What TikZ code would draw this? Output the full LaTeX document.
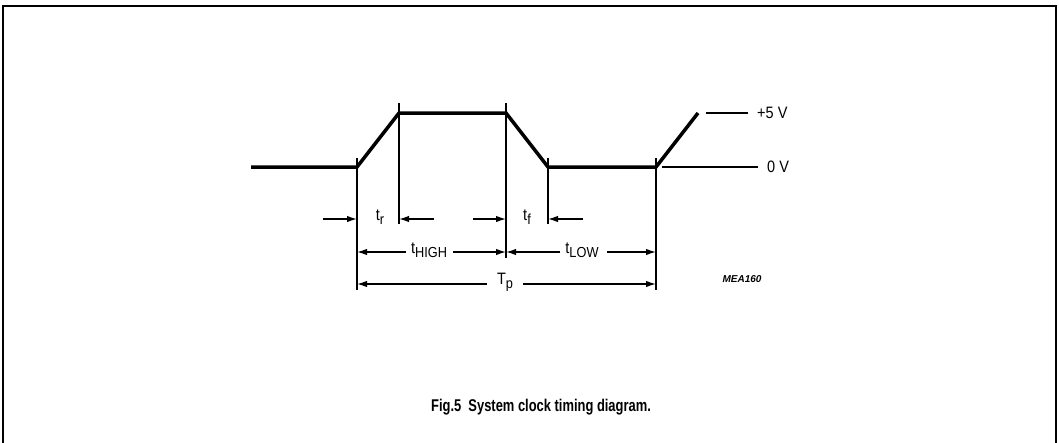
\documentclass[tikz,border=0pt]{standalone}
\usepackage{fontspec}
\setmainfont{Liberation Sans}
\newfontfamily\capfont[FakeStretch=0.76]{Liberation Sans}
\newfontfamily\lblfont[FakeStretch=0.88]{Liberation Sans}
\usetikzlibrary{arrows.meta}
\newcommand{\lowsub}[1]{\raisebox{-0.45ex}{\fontsize{14.5}{14.5}\selectfont #1}}
\begin{document}
\begin{tikzpicture}[x=1pt,y=-1pt,
  sig/.style={line width=3.5pt,line join=miter},
  vline/.style={line width=2pt},
  thin/.style={line width=1.4pt},
  dim/.style={line width=1.4pt,-{Latex[length=10pt,width=6.5pt]}},
  lbl/.style={font=\lblfont\fontsize{16.5}{16.5}\selectfont,inner sep=0pt},
  frame/.style={line width=2pt}]
\useasboundingbox (0,0) rectangle (1059,442);
% frame
\draw[frame] (3,445) -- (3,6) -- (1056,6) -- (1056,445);
% signal coordinates
\coordinate (s0) at (251,167);
\coordinate (s1) at (357,167);
\coordinate (s2) at (399,113);
\coordinate (s3) at (506,113);
\coordinate (s4) at (548,167);
\coordinate (s5) at (656,167);
\coordinate (s6) at (698,113);
\draw[sig] (s0) -- (s1) -- (s2) -- (s3) -- (s4) -- (s5) -- (s6);
% level references
\coordinate (hv0) at (706,113);
\coordinate (hv1) at (748,113);
\draw[thin] (hv0) -- (hv1);
\node[lbl,anchor=west] (plus5) at (757,113) {+5 V};
\coordinate (lv0) at (662,167);
\coordinate (lv1) at (758,167);
\draw[thin] (lv0) -- (lv1);
\node[lbl,anchor=west] (zero) at (767,167) {0 V};
% vertical markers
\coordinate (v1t) at (357,158); \coordinate (v1b) at (357,290);
\coordinate (v2t) at (399,103); \coordinate (v2b) at (399,224);
\coordinate (v3t) at (506,103); \coordinate (v3b) at (506,258);
\coordinate (v4t) at (548,158); \coordinate (v4b) at (548,224);
\coordinate (v5t) at (656,158); \coordinate (v5b) at (656,290);
\foreach \v in {1,...,5} \draw[vline] (v\v t) -- (v\v b);
% t_r / t_f row
\coordinate (r1) at (323,219); \coordinate (r1e) at (357,219);
\draw[dim] (r1) -- (r1e);
\node[lbl] (tr) at (380,217) {t\lowsub{r}};
\coordinate (r2) at (434,219); \coordinate (r2e) at (399,219);
\draw[dim] (r2) -- (r2e);
\coordinate (r3) at (473,219); \coordinate (r3e) at (506,219);
\draw[dim] (r3) -- (r3e);
\node[lbl] (tf) at (527,217) {t\lowsub{f}};
\coordinate (r4) at (583,219); \coordinate (r4e) at (548,219);
\draw[dim] (r4) -- (r4e);
% t_HIGH / t_LOW row
\node[lbl] (thigh) at (429,250) {t\lowsub{HIGH}};
\coordinate (h1) at (357,252); \coordinate (h2) at (506,252);
\draw[dim] (thigh.west) ++(-5,2) -- (h1);
\draw[dim] (thigh.east) ++(6,2) -- (h2);
\node[lbl] (tlow) at (582,250) {t\lowsub{LOW}};
\coordinate (l1) at (506,252); \coordinate (l2) at (656,252);
\draw[dim] (tlow.west) ++(-5,2) -- (l1);
\draw[dim] (tlow.east) ++(8,2) -- (l2);
% T_p row
\node[lbl] (tp) at (505,282) {T\lowsub{p}};
\coordinate (p1) at (357,284); \coordinate (p2) at (656,284);
\draw[dim] (tp.west) ++(-10,2) -- (p1);
\draw[dim] (tp.east) ++(10,2) -- (p2);
% code
\node[font=\fontsize{10}{10}\selectfont\bfseries\itshape,inner sep=0pt] (code) at (742,279) {MEA160};
% caption
\node[font=\capfont\bfseries\fontsize{17}{17}\selectfont,inner sep=0pt] (cap) at (541,407) {Fig.5\ \ System clock timing diagram.};
\end{tikzpicture}
\end{document}
